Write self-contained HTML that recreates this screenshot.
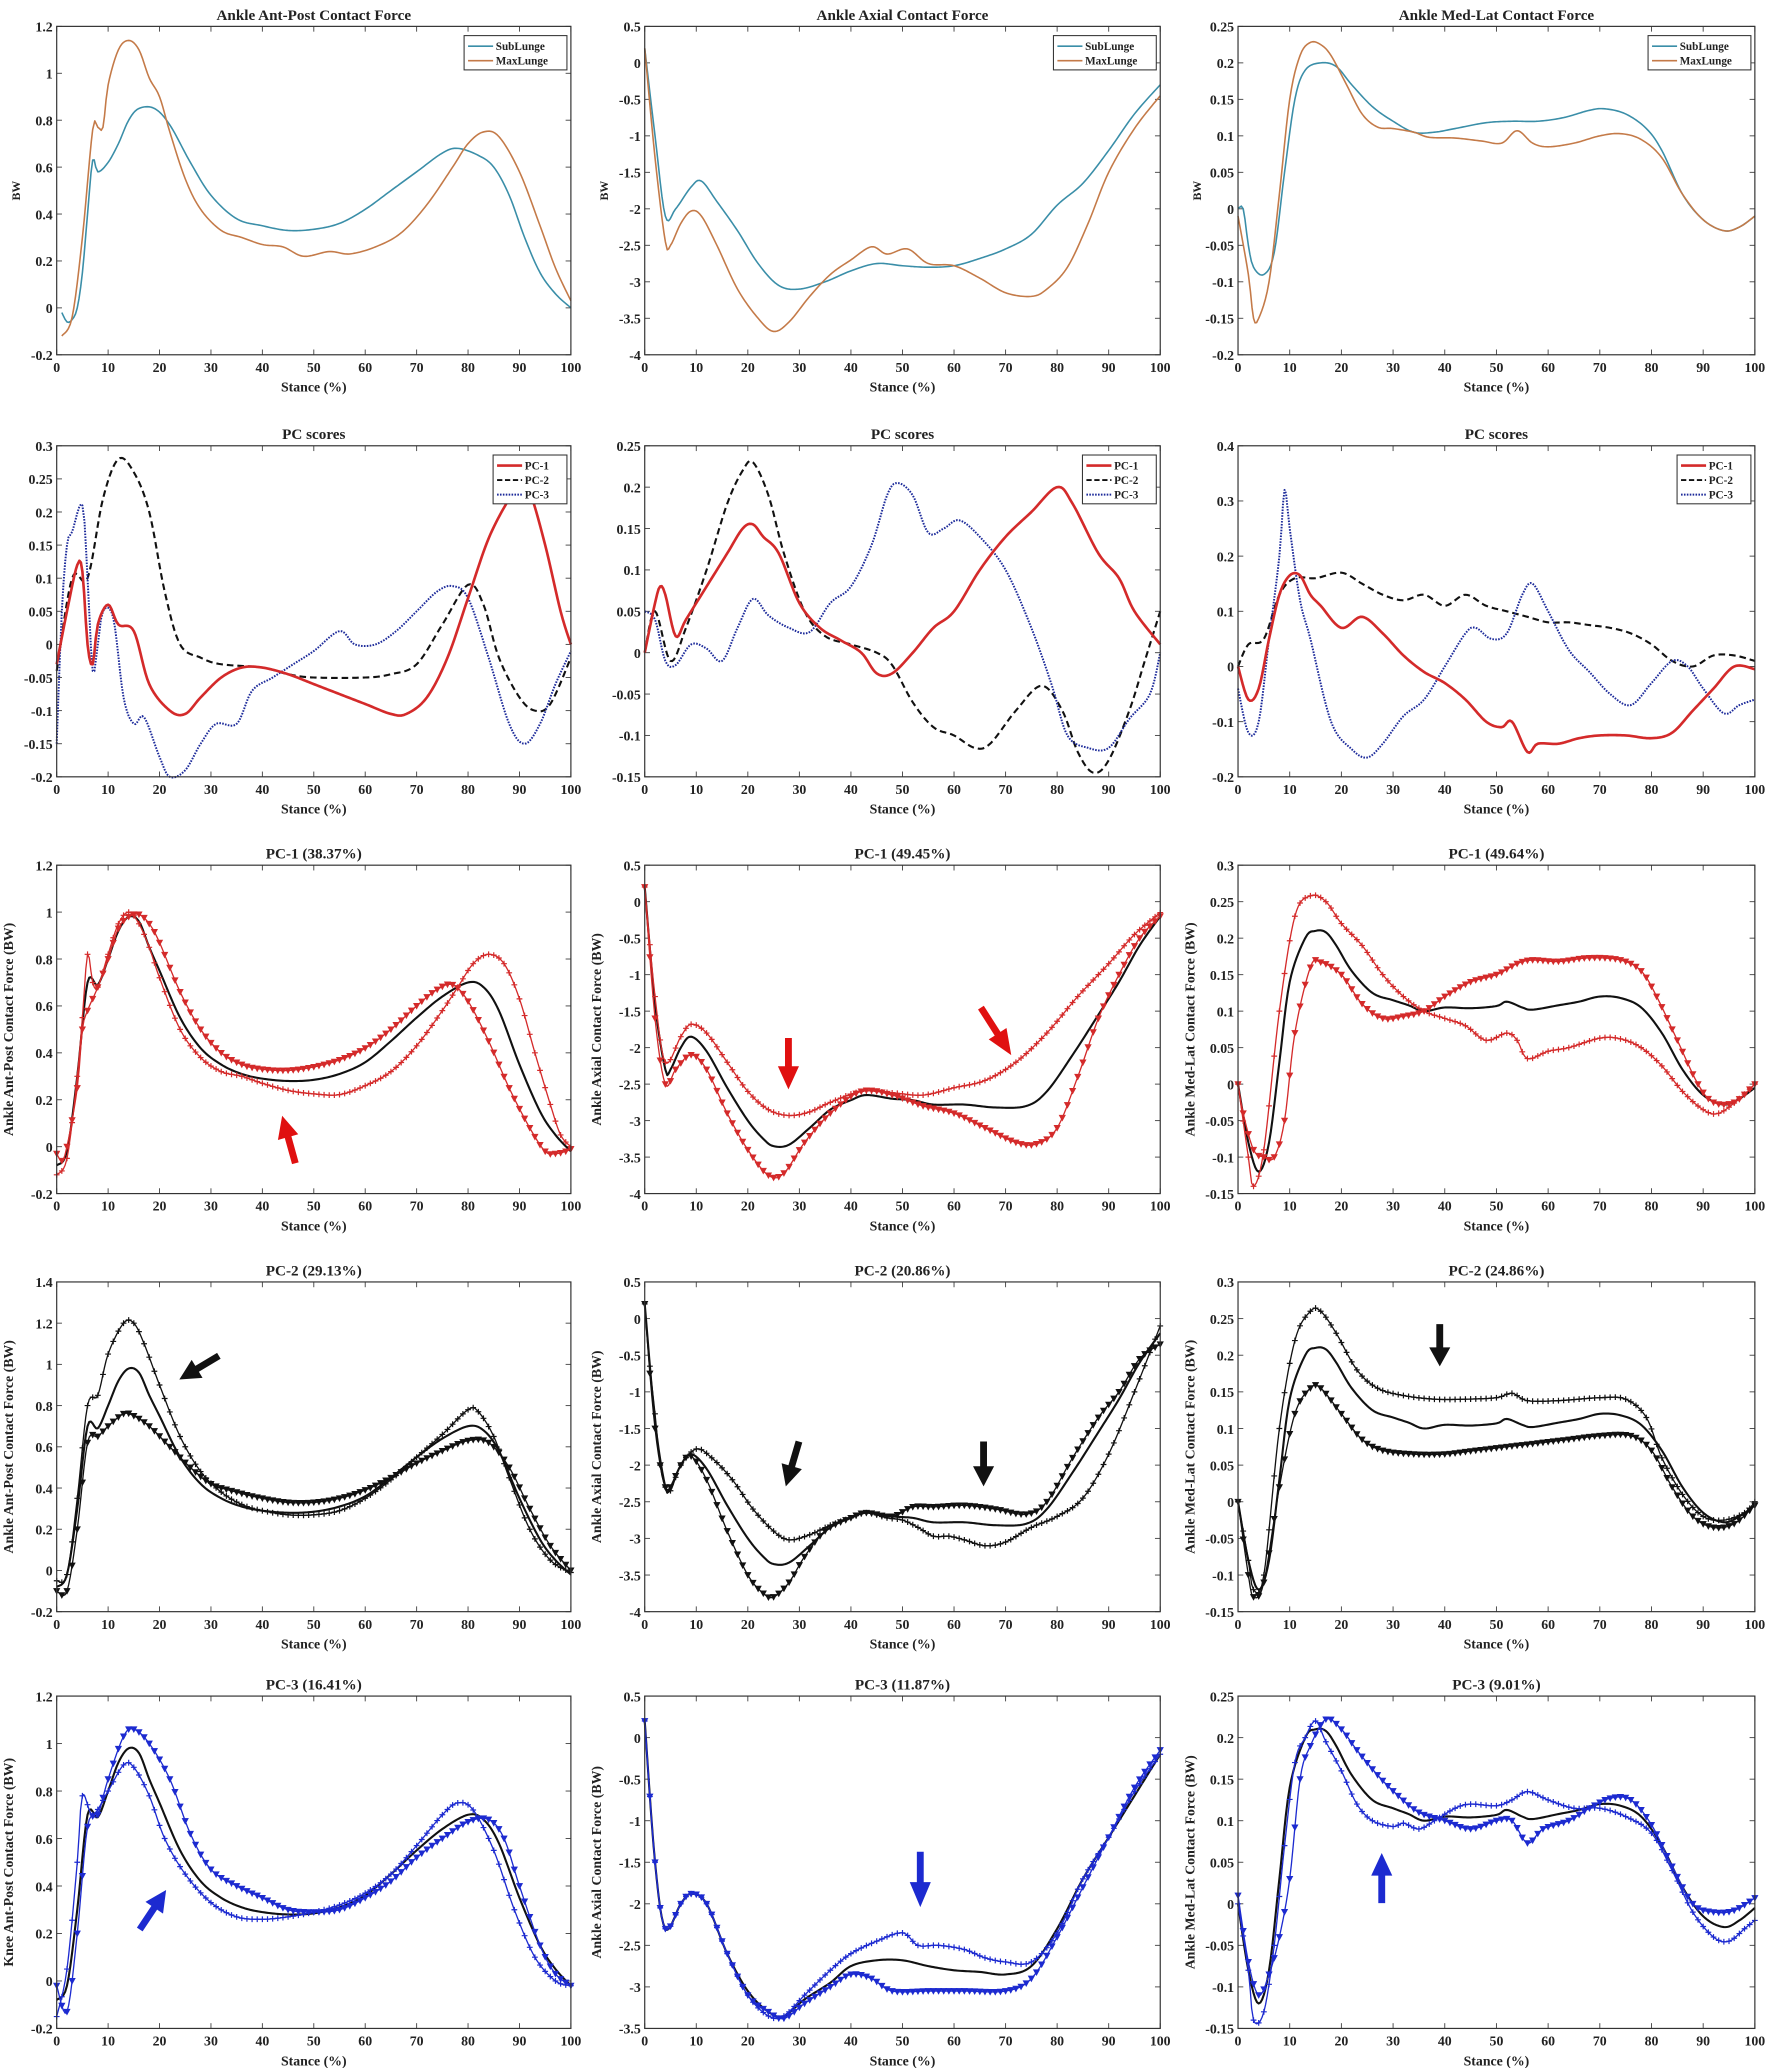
<!DOCTYPE html>
<html><head><meta charset="utf-8">
<style>
html,body{margin:0;padding:0;background:#fff;}
svg{display:block;}
text{font-family:"Liberation Serif",serif;font-weight:bold;fill:#222;}
</style></head>
<body>
<svg id="s" xmlns="http://www.w3.org/2000/svg" width="1772" height="2068" viewBox="0 0 1344 1568" preserveAspectRatio="none"></svg>
<script>
const S=document.getElementById('s');
const NS='http://www.w3.org/2000/svg';
function el(t,a,txt){const e=document.createElementNS(NS,t);for(const k in a)e.setAttribute(k,a[k]);if(txt!==undefined)e.textContent=txt;S.appendChild(e);return e;}
const COLS=[[43,433],[489,880],[939,1331]];
const ROWS=[[20,269],[338,589],[656,905],[972,1222],[1286,1538]];
function interp(pts){ // catmull-rom sampled at 0.5 step
  const out=[];
  for(let i=0;i<pts.length-1;i++){
    const p0=pts[Math.max(0,i-1)],p1=pts[i],p2=pts[i+1],p3=pts[Math.min(pts.length-1,i+2)];
    const n=Math.max(2,Math.round((p2[0]-p1[0])*3));
    for(let k=0;k<n;k++){const t=k/n,t2=t*t,t3=t2*t;
      const f=(a,b,c,d)=>0.5*((2*b)+(-a+c)*t+(2*a-5*b+4*c-d)*t2+(-a+3*b-3*c+d)*t3);
      out.push([f(p0[0],p1[0],p2[0],p3[0]),f(p0[1],p1[1],p2[1],p3[1])]);}
  }
  out.push(pts[pts.length-1]);return out;
}
function valAt(smp,x){for(let i=0;i<smp.length-1;i++){if(smp[i+1][0]>=x){const a=smp[i],b=smp[i+1];const t=(x-a[0])/((b[0]-a[0])||1);return a[1]+t*(b[1]-a[1]);}}return smp[smp.length-1][1];}
function fmt(v){return String(parseFloat(v.toFixed(3)));}
function panel(r,c,o){
  const [x0,x1]=COLS[c],[y0,y1]=ROWS[r];
  const [ymin,ymax,step]=o.y;
  const X=x=>x0+(x1-x0)*x/100, Y=v=>y1-(y1-y0)*(v-ymin)/(ymax-ymin);
  // title
  el('text',{x:(x0+x1)/2,y:y0-5,'text-anchor':'middle','font-size':11.5},o.title);
  // ticks
  for(let i=0;i<=10;i++){const x=X(i*10);
    el('line',{x1:x,x2:x,y1:y1,y2:y1-4,stroke:'#444','stroke-width':0.7});
    el('line',{x1:x,x2:x,y1:y0,y2:y0+4,stroke:'#444','stroke-width':0.7});
    el('text',{x:x,y:y1+13,'text-anchor':'middle','font-size':10.5},String(i*10));}
  const nT=Math.round((ymax-ymin)/step);
  for(let i=0;i<=nT;i++){const v=ymin+i*step,y=Y(v);
    el('line',{x1:x0,x2:x0+4,y1:y,y2:y,stroke:'#444','stroke-width':0.7});
    el('line',{x1:x1,x2:x1-4,y1:y,y2:y,stroke:'#444','stroke-width':0.7});
    el('text',{x:x0-3,y:y+4,'text-anchor':'end','font-size':10.5},fmt(v));}
  el('text',{x:(x0+x1)/2,y:y1+28,'text-anchor':'middle','font-size':10.5},'Stance (%)');
  if(o.ylab){const lx=x0-(o.ylab.length>3?33:28),ly=(y0+y1)/2;
    el('text',{x:lx,y:ly,'text-anchor':'middle','font-size':o.ylab.length>3?10.5:9,transform:`rotate(-90 ${lx} ${ly})`},o.ylab);}
  // series
  for(const s of o.series){
    const smp=interp(s.p);
    const d=smp.map((p,i)=>(i?'L':'M')+X(p[0]).toFixed(2)+' '+Y(p[1]).toFixed(2)).join(' ');
    const a={d:d,fill:'none',stroke:s.c,'stroke-width':s.w||1.2,'stroke-linejoin':'round'};
    if(s.dash)a['stroke-dasharray']=s.dash;
    el('path',a);
    if(s.m){for(let x=0;x<=100;x++){const px=X(x),py=Y(valAt(smp,x));
      if(s.m==='+'){el('path',{d:`M${px-2.2} ${py}H${px+2.2}M${px} ${py-2.2}V${py+2.2}`,stroke:s.c,'stroke-width':0.9});}
      else{el('path',{d:`M${px-2.4} ${py-2}L${px+2.4} ${py-2}L${px} ${py+2.4}Z`,fill:s.c,stroke:s.c,'stroke-width':0.4});}
    }}
  }
  el('rect',{x:x0,y:y0,width:x1-x0,height:y1-y0,fill:'none',stroke:'#333','stroke-width':0.9});
  if(o.leg){const L=o.leg;const lw=L.w,lh=L.items.length*11+4;const lx=x1-lw-3,ly=y0+7;
    el('rect',{x:lx,y:ly,width:lw,height:lh,fill:'#fff',stroke:'#333','stroke-width':0.8});
    L.items.forEach((it,i)=>{const yy=ly+8+i*11;
      const a={x1:lx+3,x2:lx+22,y1:yy,y2:yy,stroke:it.c,'stroke-width':it.w||1.2};if(it.dash)a['stroke-dasharray']=it.dash;el('line',a);
      el('text',{x:lx+24,y:yy+3,'font-size':8.5},it.t);});}
  if(o.arrows){for(const ar of o.arrows){arrow(ar[0],ar[1],ar[2],ar[3],ar[4]);}}
}
function arrow(xa,ya,xb,yb,col){ // tail (xa,ya) to tip (xb,yb)
  const dx=xb-xa,dy=yb-ya,L=Math.hypot(dx,dy),ux=dx/L,uy=dy/L,nx=-uy,ny=ux;
  const hl=L*0.45,hw=8,sw=2.6;
  const bx=xb-ux*hl,by=yb-uy*hl;
  const pts=[[xa+nx*sw,ya+ny*sw],[bx+nx*sw,by+ny*sw],[bx+nx*hw,by+ny*hw],[xb,yb],[bx-nx*hw,by-ny*hw],[bx-nx*sw,by-ny*sw],[xa-nx*sw,ya-ny*sw]];
  el('polygon',{points:pts.map(p=>p.join(',')).join(' '),fill:col});
}
const TEAL='#3a8ea8',ORG='#c47a48',RED='#d42a2a',NAVY='#1c2a9a',BLK='#111',BLUE='#1c2ad0';
// Row 1
panel(0,0,{title:'Ankle Ant-Post Contact Force',y:[-0.2,1.2,0.2],ylab:'BW',
 leg:{w:78,items:[{t:'SubLunge',c:TEAL},{t:'MaxLunge',c:ORG}]},
 series:[
 {c:TEAL,p:[[1,-0.02],[2,-0.06],[3,-0.05],[4,0.0],[5,0.15],[6,0.4],[7,0.63],[8,0.58],[10,0.62],[12,0.7],[14,0.8],[16,0.85],[19,0.85],[22,0.78],[26,0.62],[30,0.48],[35,0.38],[40,0.35],[45,0.33],[50,0.335],[55,0.36],[60,0.42],[65,0.5],[70,0.58],[75,0.66],[78,0.68],[82,0.65],[85,0.6],[88,0.48],[91,0.3],[94,0.15],[97,0.06],[100,0.0]]},
 {c:ORG,p:[[1,-0.12],[3,-0.04],[5,0.3],[7,0.76],[8,0.77],[9,0.77],[10,0.95],[12,1.1],[14,1.14],[16,1.1],[18,0.98],[20,0.9],[22,0.75],[25,0.55],[28,0.42],[32,0.33],[36,0.3],[40,0.27],[44,0.26],[48,0.22],[53,0.24],[57,0.23],[62,0.26],[67,0.32],[72,0.44],[77,0.6],[80,0.7],[83,0.75],[86,0.73],[90,0.58],[94,0.35],[97,0.17],[100,0.03]]}]});
panel(0,1,{title:'Ankle Axial Contact Force',y:[-4,0.5,0.5],ylab:'BW',
 leg:{w:78,items:[{t:'SubLunge',c:TEAL},{t:'MaxLunge',c:ORG}]},
 series:[
 {c:TEAL,p:[[0,0.2],[2,-1],[4,-2.1],[6,-2.0],[9,-1.7],[11,-1.62],[14,-1.9],[18,-2.3],[22,-2.75],[26,-3.05],[30,-3.1],[35,-3.0],[40,-2.85],[45,-2.75],[50,-2.78],[55,-2.8],[60,-2.78],[65,-2.68],[70,-2.55],[75,-2.35],[80,-1.95],[85,-1.65],[90,-1.2],[95,-0.7],[100,-0.3]]},
 {c:ORG,p:[[0,0.2],[2,-1.3],[4,-2.45],[5,-2.5],[7,-2.2],[9,-2.03],[11,-2.1],[14,-2.5],[18,-3.1],[22,-3.5],[25,-3.68],[28,-3.55],[32,-3.2],[36,-2.9],[40,-2.7],[44,-2.52],[47,-2.62],[51,-2.55],[55,-2.75],[60,-2.78],[65,-2.95],[70,-3.15],[75,-3.2],[78,-3.1],[82,-2.8],[86,-2.2],[90,-1.5],[95,-0.9],[100,-0.45]]}]});
panel(0,2,{title:'Ankle Med-Lat Contact Force',y:[-0.2,0.25,0.05],ylab:'BW',
 leg:{w:78,items:[{t:'SubLunge',c:TEAL},{t:'MaxLunge',c:ORG}]},
 series:[
 {c:TEAL,p:[[0,0],[1,0],[2,-0.05],[3,-0.08],[5,-0.09],[7,-0.06],[9,0.05],[11,0.15],[13,0.19],[16,0.2],[19,0.195],[22,0.17],[26,0.14],[30,0.12],[34,0.105],[38,0.105],[42,0.11],[48,0.118],[53,0.12],[58,0.12],[63,0.125],[68,0.135],[71,0.137],[75,0.13],[79,0.11],[82,0.08],[86,0.02],[90,-0.015],[94,-0.03],[97,-0.025],[100,-0.01]]},
 {c:ORG,p:[[0,-0.01],[2,-0.09],[3,-0.15],[4,-0.15],[6,-0.1],[8,0.02],[10,0.15],[12,0.21],[14,0.228],[16,0.225],[18,0.21],[21,0.17],[24,0.13],[27,0.112],[30,0.11],[34,0.105],[37,0.098],[42,0.097],[47,0.093],[51,0.09],[54,0.107],[57,0.09],[60,0.085],[65,0.09],[70,0.1],[74,0.103],[78,0.095],[82,0.07],[86,0.02],[90,-0.015],[94,-0.03],[97,-0.025],[100,-0.01]]}]});
// Row 2
const pcLeg={w:56,items:[{t:'PC-1',c:RED,w:2},{t:'PC-2',c:BLK,dash:'4 2',w:1.5},{t:'PC-3',c:NAVY,dash:'1.2 1',w:1.5}]};
panel(1,0,{title:'PC scores',y:[-0.2,0.3,0.05],leg:pcLeg,series:[
 {c:BLK,w:1.6,dash:'5 3',p:[[0,-0.04],[3,0.1],[6,0.1],[9,0.22],[12,0.28],[15,0.26],[18,0.2],[21,0.08],[24,0.0],[28,-0.02],[32,-0.03],[40,-0.035],[45,-0.045],[50,-0.05],[60,-0.05],[65,-0.045],[70,-0.03],[75,0.03],[80,0.09],[83,0.06],[86,-0.02],[90,-0.08],[93,-0.1],[96,-0.09],[100,-0.02]]},
 {c:NAVY,w:1.5,dash:'1.2 1',p:[[0,-0.15],[1,0.05],[2,0.15],[3,0.17],[5,0.21],[6,0.1],[7,-0.04],[8,0.0],[9,0.05],[11,0.04],[13,-0.08],[15,-0.12],[17,-0.11],[20,-0.17],[22,-0.2],[25,-0.19],[28,-0.15],[31,-0.12],[35,-0.12],[38,-0.07],[42,-0.05],[46,-0.03],[50,-0.01],[55,0.02],[58,0.0],[62,0.0],[66,0.02],[70,0.05],[74,0.08],[77,0.088],[80,0.07],[84,-0.02],[88,-0.12],[91,-0.15],[94,-0.12],[97,-0.06],[100,-0.01]]},
 {c:RED,w:2,p:[[0,-0.03],[2,0.05],[4,0.12],[5,0.11],[6,0.0],[7,-0.03],[8,0.03],[10,0.06],[12,0.03],[15,0.02],[18,-0.06],[22,-0.1],[25,-0.105],[28,-0.08],[32,-0.05],[36,-0.035],[40,-0.035],[45,-0.045],[50,-0.06],[55,-0.075],[60,-0.09],[65,-0.105],[68,-0.105],[72,-0.08],[76,-0.02],[80,0.07],[84,0.16],[88,0.22],[90,0.24],[92,0.23],[95,0.15],[98,0.05],[100,0.0]]}]});
panel(1,1,{title:'PC scores',y:[-0.15,0.25,0.05],leg:pcLeg,series:[
 {c:BLK,w:1.6,dash:'5 3',p:[[0,0.0],[2,0.05],[5,-0.01],[8,0.03],[12,0.1],[16,0.18],[19,0.22],[21,0.23],[24,0.19],[27,0.12],[31,0.05],[35,0.02],[40,0.01],[45,0.0],[48,-0.015],[52,-0.06],[56,-0.09],[60,-0.1],[64,-0.115],[67,-0.11],[72,-0.07],[77,-0.04],[81,-0.07],[84,-0.12],[87,-0.145],[90,-0.13],[94,-0.07],[97,-0.01],[100,0.05]]},
 {c:NAVY,w:1.5,dash:'1.2 1',p:[[0,0.05],[2,0.04],[4,-0.01],[6,-0.015],[9,0.01],[12,0.005],[15,-0.01],[18,0.03],[21,0.065],[24,0.045],[28,0.03],[32,0.025],[36,0.06],[40,0.08],[44,0.13],[47,0.19],[49,0.205],[52,0.19],[55,0.145],[58,0.15],[61,0.16],[65,0.14],[70,0.1],[75,0.03],[79,-0.04],[82,-0.1],[86,-0.115],[90,-0.115],[94,-0.08],[98,-0.05],[100,0.0]]},
 {c:RED,w:2,p:[[0,0],[2,0.06],[3,0.08],[4,0.07],[6,0.02],[8,0.04],[12,0.08],[16,0.12],[19,0.15],[21,0.155],[23,0.14],[26,0.12],[30,0.06],[34,0.03],[38,0.015],[42,0.0],[45,-0.025],[48,-0.025],[52,0.0],[56,0.03],[60,0.05],[65,0.1],[70,0.14],[75,0.17],[80,0.2],[83,0.18],[88,0.12],[92,0.09],[95,0.05],[100,0.01]]}]});
panel(1,2,{title:'PC scores',y:[-0.2,0.4,0.1],leg:pcLeg,series:[
 {c:BLK,w:1.6,dash:'5 3',p:[[0,0.0],[2,0.04],[5,0.05],[8,0.13],[11,0.16],[15,0.16],[20,0.17],[24,0.15],[28,0.13],[32,0.12],[36,0.13],[40,0.11],[44,0.13],[48,0.11],[52,0.1],[56,0.09],[60,0.08],[64,0.08],[68,0.075],[72,0.07],[76,0.06],[80,0.04],[84,0.01],[88,0.0],[92,0.02],[96,0.02],[100,0.01]]},
 {c:NAVY,w:1.5,dash:'1.2 1',p:[[0,-0.04],[2,-0.12],[4,-0.1],[6,0.05],[8,0.2],[9,0.32],[10,0.25],[12,0.12],[14,0.05],[18,-0.1],[22,-0.15],[25,-0.165],[28,-0.14],[32,-0.09],[36,-0.06],[40,0.0],[44,0.06],[46,0.07],[49,0.05],[52,0.06],[55,0.13],[57,0.15],[60,0.1],[64,0.03],[68,-0.01],[72,-0.05],[76,-0.07],[80,-0.03],[84,0.01],[87,0.0],[90,-0.04],[94,-0.085],[97,-0.07],[100,-0.06]]},
 {c:RED,w:2,p:[[0,0],[2,-0.06],[4,-0.04],[6,0.05],[8,0.13],[10,0.165],[12,0.165],[14,0.13],[16,0.11],[20,0.07],[24,0.09],[28,0.06],[32,0.02],[36,-0.01],[40,-0.03],[44,-0.06],[48,-0.1],[51,-0.11],[53,-0.1],[56,-0.155],[58,-0.14],[62,-0.14],[66,-0.13],[70,-0.125],[75,-0.125],[80,-0.13],[84,-0.12],[88,-0.08],[92,-0.04],[96,0.0],[100,-0.005]]}]});
// mean curves
const apMean=[[0,-0.08],[2,-0.02],[4,0.3],[6,0.7],[8,0.69],[10,0.8],[12,0.92],[14,0.98],[16,0.96],[18,0.85],[20,0.75],[24,0.55],[28,0.42],[32,0.35],[36,0.31],[40,0.29],[45,0.28],[50,0.285],[55,0.31],[60,0.36],[65,0.45],[70,0.55],[75,0.64],[80,0.7],[83,0.68],[86,0.58],[90,0.35],[94,0.15],[97,0.05],[100,-0.02]];
const axMean=[[0,0.2],[2,-1.4],[4,-2.3],[5,-2.3],[7,-2.0],[9,-1.85],[12,-2.05],[16,-2.55],[20,-3.0],[23,-3.25],[25,-3.35],[28,-3.33],[32,-3.1],[36,-2.85],[40,-2.72],[43,-2.65],[48,-2.7],[52,-2.72],[56,-2.78],[62,-2.78],[68,-2.82],[74,-2.8],[78,-2.6],[83,-2.1],[88,-1.55],[92,-1.1],[96,-0.6],[100,-0.2]];
const mlMean=[[0,0],[2,-0.08],[4,-0.12],[6,-0.08],[8,0.03],[10,0.14],[13,0.2],[15,0.21],[17,0.208],[19,0.19],[22,0.155],[26,0.125],[30,0.115],[33,0.108],[36,0.1],[40,0.105],[45,0.104],[50,0.107],[52,0.113],[55,0.105],[57,0.102],[62,0.108],[66,0.113],[70,0.12],[74,0.118],[78,0.105],[82,0.07],[86,0.02],[90,-0.015],[94,-0.028],[97,-0.02],[100,-0.005]];
// Row 3
panel(2,0,{title:'PC-1 (38.37%)',y:[-0.2,1.2,0.2],ylab:'Ankle Ant-Post Contact Force (BW)',arrows:[[224,882,214,846,'#e01010']],series:[
 {c:BLK,w:1.6,p:apMean},
 {c:RED,w:1,m:'+',p:[[0,-0.12],[2,-0.05],[4,0.3],[5,0.55],[6,0.82],[7,0.7],[8,0.68],[10,0.82],[12,0.95],[14,1.0],[16,0.95],[18,0.85],[20,0.72],[24,0.5],[28,0.38],[32,0.32],[36,0.3],[40,0.27],[45,0.24],[50,0.225],[55,0.222],[60,0.26],[65,0.32],[70,0.43],[75,0.58],[78,0.68],[81,0.78],[84,0.82],[87,0.78],[90,0.63],[93,0.4],[96,0.18],[98,0.05],[100,0.0]]},
 {c:RED,w:1,m:'v',p:[[0,-0.03],[1,-0.06],[2,0.0],[4,0.25],[5,0.5],[6,0.58],[8,0.68],[10,0.8],[12,0.93],[14,0.98],[16,0.99],[18,0.95],[20,0.87],[24,0.66],[28,0.5],[32,0.4],[36,0.35],[40,0.33],[45,0.325],[50,0.34],[55,0.37],[60,0.42],[65,0.5],[70,0.6],[74,0.67],[77,0.69],[80,0.62],[84,0.45],[88,0.25],[92,0.08],[95,-0.02],[97,-0.03],[99,-0.02],[100,-0.01]]}]});
panel(2,1,{title:'PC-1 (49.45%)',y:[-4,0.5,0.5],ylab:'Ankle Axial Contact Force (BW)',arrows:[[598,787,598,826,'#e01010'],[744,764,767,800,'#e01010']],series:[
 {c:BLK,w:1.6,p:axMean},
 {c:RED,w:1,m:'+',p:[[0,0.2],[2,-1.3],[4,-2.2],[7,-1.85],[9,-1.68],[12,-1.8],[16,-2.2],[20,-2.6],[24,-2.85],[28,-2.93],[32,-2.88],[36,-2.75],[42,-2.6],[48,-2.62],[54,-2.65],[60,-2.55],[66,-2.45],[72,-2.2],[78,-1.8],[84,-1.3],[90,-0.85],[95,-0.45],[100,-0.15]]},
 {c:RED,w:1,m:'v',p:[[0,0.2],[2,-1.6],[4,-2.5],[6,-2.3],[9,-2.1],[12,-2.3],[16,-2.9],[20,-3.4],[24,-3.75],[27,-3.72],[31,-3.3],[36,-2.9],[42,-2.6],[48,-2.65],[54,-2.8],[60,-2.9],[66,-3.1],[72,-3.3],[76,-3.32],[80,-3.1],[84,-2.4],[88,-1.6],[92,-1.0],[96,-0.5],[100,-0.2]]}]});
panel(2,2,{title:'PC-1 (49.64%)',y:[-0.15,0.3,0.05],ylab:'Ankle Med-Lat Contact Force (BW)',series:[
 {c:BLK,w:1.6,p:mlMean},
 {c:RED,w:1,m:'+',p:[[0,0],[2,-0.1],[3,-0.14],[5,-0.09],[8,0.1],[11,0.23],[14,0.258],[17,0.25],[20,0.22],[24,0.19],[28,0.15],[32,0.12],[36,0.1],[40,0.09],[44,0.08],[48,0.06],[52,0.07],[54,0.06],[56,0.035],[60,0.045],[64,0.05],[70,0.063],[74,0.062],[78,0.05],[82,0.025],[86,-0.01],[90,-0.035],[93,-0.04],[97,-0.02],[100,0.0]]},
 {c:RED,w:1,m:'v',p:[[0,0],[1,-0.04],[3,-0.09],[5,-0.1],[7,-0.1],[9,-0.05],[11,0.07],[14,0.16],[16,0.167],[20,0.15],[24,0.11],[28,0.09],[32,0.093],[36,0.1],[40,0.12],[45,0.14],[50,0.15],[54,0.165],[57,0.17],[62,0.168],[68,0.173],[74,0.17],[78,0.155],[81,0.12],[85,0.06],[89,0.0],[92,-0.025],[96,-0.025],[100,0.0]]}]});
// Row 4
panel(3,0,{title:'PC-2 (29.13%)',y:[-0.2,1.4,0.2],ylab:'Ankle Ant-Post Contact Force (BW)',arrows:[[166,1028,136,1046,BLK]],series:[
 {c:BLK,w:1.6,p:apMean},
 {c:BLK,w:1,m:'+',p:[[0,-0.05],[2,-0.02],[4,0.35],[6,0.8],[8,0.85],[10,1.05],[13,1.2],[15,1.2],[17,1.1],[20,0.9],[24,0.65],[28,0.48],[32,0.38],[36,0.32],[40,0.29],[45,0.27],[50,0.27],[55,0.29],[60,0.35],[65,0.44],[70,0.55],[75,0.66],[80,0.78],[82,0.77],[85,0.65],[88,0.45],[92,0.2],[96,0.05],[100,-0.01]]},
 {c:BLK,w:1,m:'v',p:[[0,-0.1],[2,-0.1],[4,0.2],[6,0.62],[8,0.65],[10,0.7],[13,0.76],[15,0.75],[18,0.7],[22,0.6],[26,0.5],[30,0.42],[35,0.38],[40,0.35],[45,0.33],[50,0.33],[55,0.35],[60,0.39],[65,0.45],[70,0.52],[75,0.58],[80,0.63],[84,0.62],[88,0.5],[92,0.3],[96,0.12],[100,0.0]]}]});
panel(3,1,{title:'PC-2 (20.86%)',y:[-4,0.5,0.5],ylab:'Ankle Axial Contact Force (BW)',arrows:[[606,1093,596,1127,BLK],[746,1093,746,1127,BLK]],series:[
 {c:BLK,w:1.6,p:axMean},
 {c:BLK,w:1,m:'+',p:[[0,0.2],[1,-0.65],[2,-1.3],[3,-2.0],[4,-2.3],[5,-2.35],[7,-2.0],[10,-1.78],[13,-1.9],[17,-2.2],[21,-2.6],[25,-2.9],[28,-3.02],[32,-2.95],[36,-2.82],[40,-2.72],[43,-2.65],[47,-2.72],[50,-2.75],[53,-2.85],[56,-2.97],[59,-2.97],[62,-3.02],[66,-3.1],[70,-3.05],[75,-2.85],[80,-2.7],[85,-2.45],[90,-1.85],[95,-1.0],[100,-0.1]]},
 {c:BLK,w:1,m:'v',p:[[0,0.2],[1,-0.75],[2,-1.5],[3,-2.0],[4,-2.3],[5,-2.3],[7,-2.0],[9,-1.88],[12,-2.2],[16,-2.9],[20,-3.5],[23,-3.75],[25,-3.8],[28,-3.6],[31,-3.25],[35,-2.9],[40,-2.72],[43,-2.65],[48,-2.7],[52,-2.57],[56,-2.57],[62,-2.55],[68,-2.6],[74,-2.67],[78,-2.5],[83,-1.9],[88,-1.35],[92,-1.0],[96,-0.55],[100,-0.35]]}]});
panel(3,2,{title:'PC-2 (24.86%)',y:[-0.15,0.3,0.05],ylab:'Ankle Med-Lat Contact Force (BW)',arrows:[[1092,1004,1092,1036,BLK]],series:[
 {c:BLK,w:1.6,p:mlMean},
 {c:BLK,w:1,m:'+',p:[[0,0],[2,-0.08],[3,-0.12],[5,-0.1],[8,0.1],[11,0.22],[14,0.26],[16,0.26],[19,0.23],[23,0.18],[27,0.155],[32,0.145],[38,0.14],[44,0.14],[50,0.142],[53,0.148],[56,0.138],[62,0.138],[70,0.142],[75,0.14],[79,0.115],[82,0.06],[86,0.01],[90,-0.02],[94,-0.025],[98,-0.015],[100,0]]},
 {c:BLK,w:1,m:'v',p:[[0,0],[2,-0.1],[3,-0.13],[5,-0.11],[8,0.02],[11,0.12],[14,0.155],[16,0.155],[20,0.12],[24,0.085],[28,0.07],[34,0.065],[40,0.065],[46,0.07],[52,0.075],[58,0.08],[64,0.085],[70,0.09],[76,0.09],[80,0.07],[84,0.02],[88,-0.02],[92,-0.035],[96,-0.03],[100,-0.005]]}]});
// Row 5
panel(4,0,{title:'PC-3 (16.41%)',y:[-0.2,1.2,0.2],ylab:'Knee Ant-Post Contact Force (BW)',arrows:[[106,1463,126,1433,BLUE]],series:[
 {c:BLK,w:1.6,p:apMean},
 {c:BLUE,w:1,m:'v',p:[[0,-0.02],[2,-0.13],[4,0.2],[6,0.65],[8,0.7],[10,0.85],[13,1.03],[15,1.06],[18,1.0],[22,0.85],[26,0.62],[30,0.47],[35,0.4],[40,0.35],[45,0.3],[50,0.29],[55,0.3],[60,0.35],[65,0.42],[70,0.52],[75,0.6],[80,0.67],[84,0.68],[87,0.6],[90,0.4],[94,0.15],[97,0.03],[100,-0.02]]},
 {c:BLUE,w:1,m:'+',p:[[0,-0.15],[2,0.05],[4,0.5],[5,0.78],[7,0.7],[10,0.8],[13,0.91],[15,0.9],[18,0.78],[21,0.6],[25,0.45],[30,0.33],[35,0.27],[40,0.26],[45,0.27],[50,0.29],[55,0.32],[60,0.37],[65,0.45],[70,0.57],[75,0.7],[78,0.75],[81,0.72],[85,0.55],[89,0.3],[93,0.1],[97,0.0],[100,-0.02]]}]});
panel(4,1,{title:'PC-3 (11.87%)',y:[-3.5,0.5,0.5],ylab:'Ankle Axial Contact Force (BW)',arrows:[[698,1404,698,1446,BLUE]],series:[
 {c:BLK,w:1.6,p:[[0,0.2],[2,-1.5],[4,-2.3],[7,-2.0],[9,-1.88],[12,-2.0],[16,-2.6],[20,-3.05],[24,-3.3],[27,-3.35],[31,-3.15],[36,-2.95],[40,-2.75],[45,-2.68],[50,-2.68],[55,-2.75],[60,-2.8],[65,-2.82],[70,-2.85],[75,-2.75],[80,-2.3],[85,-1.7],[90,-1.2],[95,-0.7],[100,-0.2]]},
 {c:BLUE,w:1,m:'+',p:[[0,0.2],[2,-1.5],[4,-2.3],[7,-2.0],[9,-1.88],[12,-2.0],[16,-2.6],[20,-3.1],[24,-3.35],[27,-3.35],[31,-3.1],[36,-2.8],[40,-2.6],[45,-2.45],[50,-2.35],[53,-2.5],[57,-2.5],[62,-2.55],[66,-2.65],[70,-2.7],[75,-2.7],[80,-2.35],[85,-1.7],[90,-1.2],[95,-0.65],[100,-0.2]]},
 {c:BLUE,w:1,m:'v',p:[[0,0.2],[2,-1.5],[4,-2.3],[7,-2.0],[9,-1.88],[12,-2.0],[16,-2.6],[20,-3.1],[24,-3.3],[27,-3.38],[31,-3.2],[36,-3.0],[40,-2.85],[44,-2.9],[48,-3.05],[55,-3.05],[62,-3.05],[70,-3.05],[75,-2.9],[80,-2.4],[85,-1.8],[90,-1.2],[95,-0.6],[100,-0.15]]}]});
panel(4,2,{title:'PC-3 (9.01%)',y:[-0.15,0.25,0.05],ylab:'Ankle Med-Lat Contact Force (BW)',arrows:[[1048,1443,1048,1405,BLUE]],series:[
 {c:BLK,w:1.6,p:mlMean},
 {c:BLUE,w:1,m:'+',p:[[0,0],[2,-0.08],[3,-0.14],[5,-0.13],[7,-0.05],[9,0.07],[11,0.17],[13,0.2],[15,0.22],[17,0.195],[20,0.16],[23,0.12],[26,0.1],[30,0.093],[32,0.097],[35,0.09],[38,0.1],[42,0.115],[45,0.12],[50,0.118],[53,0.125],[56,0.135],[60,0.125],[65,0.115],[70,0.115],[75,0.105],[80,0.085],[84,0.04],[88,-0.01],[92,-0.04],[95,-0.045],[98,-0.03],[100,-0.02]]},
 {c:BLUE,w:1,m:'v',p:[[0,0.01],[2,-0.07],[4,-0.11],[6,-0.085],[8,-0.04],[10,0.03],[12,0.15],[14,0.19],[17,0.222],[20,0.21],[23,0.185],[27,0.155],[31,0.13],[35,0.11],[40,0.1],[45,0.09],[50,0.1],[53,0.1],[56,0.073],[59,0.09],[64,0.1],[68,0.115],[72,0.127],[76,0.125],[80,0.095],[84,0.045],[88,0.0],[92,-0.01],[96,-0.008],[100,0.007]]}]});
</script>
</body></html>
